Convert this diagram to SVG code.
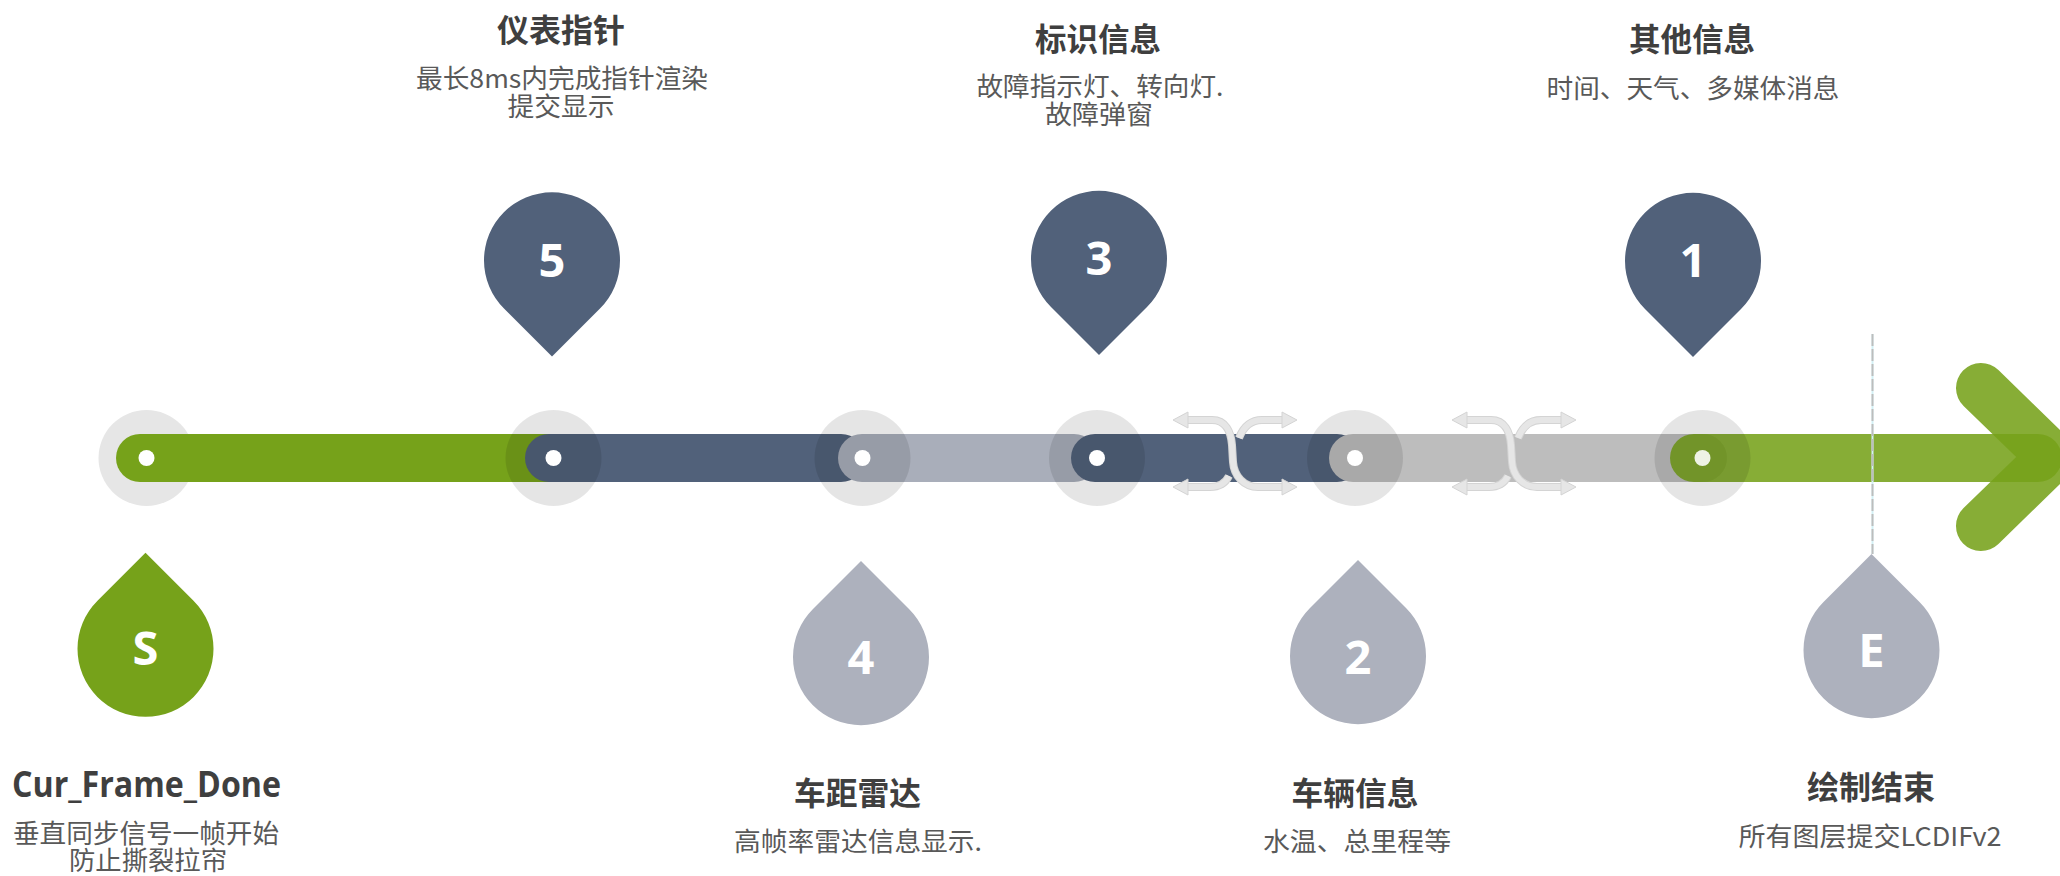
<svg xmlns="http://www.w3.org/2000/svg" xmlns:xlink="http://www.w3.org/1999/xlink" width="2060" height="876" viewBox="0 0 2060 876">
<defs>
<style>
.title{font-family:"Noto Sans CJK SC","Microsoft YaHei",sans-serif;font-weight:700;font-size:32px;fill:#3f3f3f;text-anchor:middle}
.titleL{font-family:"Open Sans","Noto Sans CJK SC",sans-serif;font-weight:700;font-size:35px;fill:#3f3f3f;text-anchor:middle}
.sub{font-family:"Noto Sans CJK SC","Microsoft YaHei",sans-serif;font-weight:400;font-size:26px;fill:#595959;text-anchor:middle}
.num{font-family:"Open Sans","Liberation Sans",sans-serif;font-weight:700;font-size:47px;fill:#ffffff;text-anchor:middle}
.halo{fill:#000000;fill-opacity:0.1}
.dot{fill:#ffffff}
.pinTop{fill:#51617a}
.pinGray{fill:#adb1bd}
.pinGreen{fill:#76a21a}
.shuf{fill:none;stroke:#e6e6e6;stroke-width:6}
.shufO{fill:none;stroke:#d4d4d4;stroke-width:8}
.ah{fill:#e6e6e6;stroke:#d4d4d4;stroke-width:1}
</style>
<g id="shuffle">
<path class="shufO" d="M1186,420 L1212,420 C1226,420 1231,432 1232,445 L1233,462 C1234,476 1244,487 1258,487 L1284,487"/>
<path class="shufO" d="M1186,487 L1210,487 C1220,487 1226,482 1229,476"/>
<path class="shufO" d="M1239,438 C1243,428 1250,420 1262,420 L1284,420"/>
<path class="shuf" d="M1186,420 L1212,420 C1226,420 1231,432 1232,445 L1233,462 C1234,476 1244,487 1258,487 L1284,487"/>
<path class="shuf" d="M1186,487 L1210,487 C1220,487 1226,482 1229,476"/>
<path class="shuf" d="M1239,438 C1243,428 1250,420 1262,420 L1284,420"/>
<polygon class="ah" points="1173,420 1188,412 1188,428"/>
<polygon class="ah" points="1173,487 1188,479 1188,495"/>
<polygon class="ah" points="1297,420 1282,412 1282,428"/>
<polygon class="ah" points="1297,487 1282,479 1282,495"/>
</g>
</defs>
<rect width="2060" height="876" fill="#ffffff"/>

<g id="connectors">
<circle cx="146.5" cy="458" r="48" fill="#e6e6e6"/>
<rect x="116" y="434" width="460" height="48" rx="24" fill="#76a21a"/>
<rect x="525" y="434" width="340" height="48" rx="24" fill="#51617a"/>
<rect x="838" y="434" width="260" height="48" rx="24" fill="#a9aeba"/>
<rect x="1071" y="434" width="290" height="48" rx="24" fill="#51617a"/>
<rect x="1329" y="434" width="398" height="48" rx="24" fill="#bdbdbd"/>
<rect x="1670" y="434" width="392" height="48" rx="24" fill="#76a21a" fill-opacity="0.88"/>
<polyline points="1981,388 2052,457 1981,526" fill="none" stroke="#76a21a" stroke-opacity="0.88" stroke-width="50" stroke-linecap="round" stroke-linejoin="miter"/>
<circle class="halo" cx="553.5" cy="458" r="48"/>
<circle class="halo" cx="862.5" cy="458" r="48"/>
<circle class="halo" cx="1097" cy="458" r="48"/>
<circle class="halo" cx="1355" cy="458" r="48"/>
<circle class="halo" cx="1702.5" cy="458" r="48"/>
<circle class="dot" cx="146.5" cy="458" r="8"/>
<circle class="dot" cx="553.5" cy="458" r="8"/>
<circle class="dot" cx="862.5" cy="458" r="8"/>
<circle class="dot" cx="1097" cy="458" r="8"/>
<circle class="dot" cx="1355" cy="458" r="8"/>
<circle cx="1702.5" cy="458" r="8" fill="#eef2e5"/>
<use xlink:href="#shuffle"/>
<use xlink:href="#shuffle" transform="translate(279,0)"/>
<line x1="1872.5" y1="334" x2="1872.5" y2="554" stroke="#d3f0f5" stroke-width="2"/>
<line x1="1872.5" y1="334" x2="1872.5" y2="554" stroke="#bdbdbd" stroke-width="2" stroke-dasharray="12 3"/>
</g>

<g id="node-5">
<path class="pinTop" d="M552,356.5 L504,308.5 A68,68 0 1 1 600,308.5 Z"/>
<text class="num" x="552" y="277">5</text>
<text class="title" x="561" y="42" textLength="128" lengthAdjust="spacingAndGlyphs">仪表指针</text>
<text class="sub" x="562" y="88" textLength="292" lengthAdjust="spacingAndGlyphs">最长8ms内完成指针渲染</text>
<text class="sub" x="561" y="116" textLength="107" lengthAdjust="spacingAndGlyphs">提交显示</text>
</g>

<g id="node-3">
<path class="pinTop" d="M1099,355 L1051,307 A68,68 0 1 1 1147,307 Z"/>
<text class="num" x="1099" y="275">3</text>
<text class="title" x="1098" y="51" textLength="126" lengthAdjust="spacingAndGlyphs">标识信息</text>
<text class="sub" x="1100" y="96" textLength="247" lengthAdjust="spacingAndGlyphs">故障指示灯、转向灯.</text>
<text class="sub" x="1099" y="124" textLength="108" lengthAdjust="spacingAndGlyphs">故障弹窗</text>
</g>

<g id="node-1">
<path class="pinTop" d="M1693,357 L1645,309 A68,68 0 1 1 1741,309 Z"/>
<text class="num" x="1693" y="277">1</text>
<text class="title" x="1692" y="51" textLength="126" lengthAdjust="spacingAndGlyphs">其他信息</text>
<text class="sub" x="1693" y="98" textLength="293" lengthAdjust="spacingAndGlyphs">时间、天气、多媒体消息</text>
</g>

<g id="node-S">
<path class="pinGreen" d="M145.5,552.7 L193.5,600.7 A68,68 0 1 1 97.5,600.7 Z"/>
<text class="num" x="145.5" y="665">S</text>
<text class="titleL" x="146.5" y="797" textLength="269" lengthAdjust="spacingAndGlyphs">Cur_Frame_Done</text>
<text class="sub" x="146" y="843" textLength="266" lengthAdjust="spacingAndGlyphs">垂直同步信号一帧开始</text>
<text class="sub" x="148" y="870" textLength="158" lengthAdjust="spacingAndGlyphs">防止撕裂拉帘</text>
</g>

<g id="node-4">
<path class="pinGray" d="M861,561 L909,609 A68,68 0 1 1 813,609 Z"/>
<text class="num" x="861" y="674">4</text>
<text class="title" x="857.5" y="805" textLength="127" lengthAdjust="spacingAndGlyphs">车距雷达</text>
<text class="sub" x="858" y="851" textLength="248" lengthAdjust="spacingAndGlyphs">高帧率雷达信息显示.</text>
</g>

<g id="node-2">
<path class="pinGray" d="M1358,560 L1406,608 A68,68 0 1 1 1310,608 Z"/>
<text class="num" x="1358" y="674">2</text>
<text class="title" x="1355" y="805" textLength="127" lengthAdjust="spacingAndGlyphs">车辆信息</text>
<text class="sub" x="1357" y="851" textLength="188" lengthAdjust="spacingAndGlyphs">水温、总里程等</text>
</g>

<g id="node-E">
<path class="pinGray" d="M1871.5,554 L1919.5,602 A68,68 0 1 1 1823.5,602 Z"/>
<text class="num" x="1871.5" y="667">E</text>
<text class="title" x="1871" y="799" textLength="128" lengthAdjust="spacingAndGlyphs">绘制结束</text>
<text class="sub" x="1870" y="846" textLength="263" lengthAdjust="spacingAndGlyphs">所有图层提交LCDIFv2</text>
</g>
</svg>
